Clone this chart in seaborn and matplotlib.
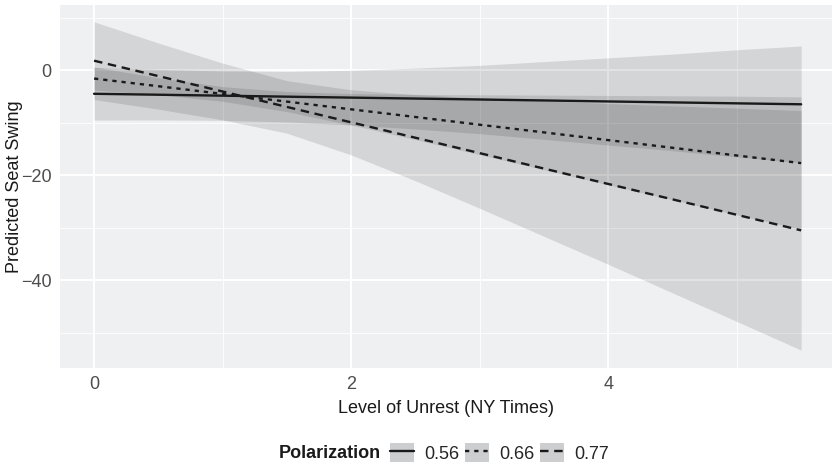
import numpy as np
import pandas as pd
import matplotlib.pyplot as plt
import seaborn as sns
from matplotlib.lines import Line2D
from matplotlib.patches import Patch

# valores
unrest = [0, 0.5, 1, 1.5, 2, 2.5, 3, 3.5, 4, 4.5, 5, 5.5]
polar_labels = ["0.56", "0.66", "0.77"]

pred_056 = [-4.5, -4.68, -4.86, -5.05, -5.23, -5.41, -5.59, -5.77, -5.96, -6.14, -6.32, -6.5]
lo_056 = [-9.5, -9.48, -9.56, -9.85, -10.43, -11.21, -12.09, -13.17, -14.26, -15.34, -16.52, -17.6]
hi_056 = [0.5, 0.12, -0.16, -0.25, -0.03, 0.39, 0.91, 1.63, 2.34, 3.06, 3.88, 4.6]

pred_066 = [-1.6, -3.06, -4.53, -5.99, -7.46, -8.92, -10.39, -11.85, -13.32, -14.78, -16.25, -17.7]
lo_066 = [-3.8, -4.66, -5.93, -7.89, -10.46, -13.22, -16.09, -18.95, -21.82, -24.68, -27.55, -30.3]
hi_066 = [0.6, -1.46, -3.13, -4.09, -4.46, -4.62, -4.69, -4.75, -4.82, -4.88, -4.95, -5.1]

pred_077 = [1.8, -1.13, -4.07, -7.0, -9.94, -12.87, -15.8, -18.74, -21.67, -24.6, -27.54, -30.5]
lo_077 = [-5.6, -7.43, -9.47, -12.0, -16.14, -21.07, -26.3, -31.64, -36.97, -42.4, -47.84, -53.3]
hi_077 = [9.2, 5.17, 1.33, -2.0, -3.74, -4.67, -5.3, -5.84, -6.37, -6.8, -7.24, -7.7]

xticks = [0, 2, 4]
yticks = [0, -20, -40]

preds = [pred_056, pred_066, pred_077]
los = [lo_056, lo_066, lo_077]
his = [hi_056, hi_066, hi_077]

datos = pd.concat([
    pd.DataFrame({"unrest": unrest, "pred": p, "lo": l, "hi": h, "Polarization": lab})
    for p, l, h, lab in zip(preds, los, his, polar_labels)
], ignore_index=True)

sns.set_theme(style="darkgrid", rc={
    "axes.facecolor": "#EFF0F2",
    "grid.color": "white",
    "axes.edgecolor": "none",
})
plt.rcParams['font.family'] = ['Liberation Sans', 'DejaVu Sans']

fig = plt.figure(figsize=(8.32, 4.67), dpi=100)
ax = fig.add_axes([60/832, (467-368)/467, 1 - 60/832, (368-5)/467])

linea = "#1a1a1a"
guiones = {"0.56": "", "0.66": (1.8, 2.1), "0.77": (3.6, 2.4)}

# bandas de confianza
for lab in polar_labels:
    d = datos[datos.Polarization == lab]
    ax.fill_between(d["unrest"], d["lo"], d["hi"], color="black", alpha=0.11, lw=0, zorder=1)

sns.lineplot(data=datos, x="unrest", y="pred", style="Polarization", dashes=guiones,
             color=linea, lw=1.7, legend=False, ax=ax, errorbar=None, zorder=3)

ax.set_xlim(-0.265, 5.74)
ax.set_ylim(-56.7, 12.4)
ax.set_xticks(xticks)
ax.set_yticks(yticks)
ax.set_xticks([1, 3, 5], minor=True)
ax.set_yticks([10, -10, -30, -50], minor=True)
ax.grid(which="major", color="white", lw=1.4)
ax.grid(which="minor", color="white", lw=0.6)
ax.tick_params(which="major", length=3.3, width=1.1, color="#333333",
               labelsize=13, labelcolor="#4D4D4D", pad=2.7)
ax.tick_params(which="minor", length=0)

ax.set_xlabel("Level of Unrest (NY Times)", fontsize=13, color="#1a1a1a")
ax.set_ylabel("Predicted Seat Swing", fontsize=13, color="#1a1a1a")
ax.xaxis.set_label_coords(0.5, (368 - 400) / 363)
ax.yaxis.set_label_coords((23 - 60) / 772, 0.5)

# leyenda abajo
handles = []
for lab in polar_labels:
    ln = Line2D([], [], color=linea, lw=1.7)
    if guiones[lab]:
        ln.set_dashes(guiones[lab])
    handles.append((Patch(fc="#CDCED0", ec="none"), ln))
fig.legend(handles, polar_labels, loc="center left", bbox_to_anchor=(390/832, 1 - 453/467),
           ncol=3, frameon=False, borderpad=0, borderaxespad=0, fontsize=13,
           handlelength=1.33, handleheight=1.22, handletextpad=0.55, columnspacing=0.33)
fig.text(381/832, 1 - 453/467, "Polarization", ha="right", va="center",
         fontweight="bold", fontsize=13, color="#1a1a1a")

fig.savefig("out.png", dpi=100)
